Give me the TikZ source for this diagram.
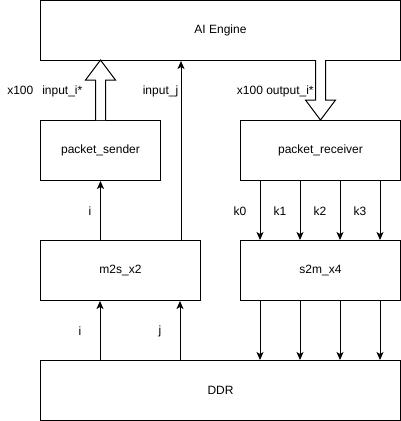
\documentclass[tikz,border=0pt]{standalone}
\usepackage{fontspec}
\setmainfont{Liberation Sans}
\usetikzlibrary{arrows.meta}
\begin{document}
\begin{tikzpicture}[x=1pt,y=-1pt,
  font=\fontsize{12}{14}\selectfont,
  box/.style={draw, line width=1pt, inner sep=0pt, fill=white},
  arr/.style={line width=1pt, -{Stealth[length=8pt,width=7pt,inset=2pt]}},
  hollow/.style={draw, line width=1pt, fill=white, line join=miter},
  lbl/.style={inner sep=0pt}]
\useasboundingbox (0,0) rectangle (401,421);
\node[box, minimum width=360pt, minimum height=60pt] (ai) at (220.5,30.5) {AI Engine};
\node[box, minimum width=120pt, minimum height=60pt] (sender) at (100.5,150.5) {packet\_sender};
\node[box, minimum width=160pt, minimum height=60pt] (recv) at (320.5,150.5) {packet\_receiver};
\node[box, minimum width=160pt, minimum height=60pt] (m2s) at (120.5,270.5) {m2s\_x2};
\node[box, minimum width=160pt, minimum height=60pt] (s2m) at (320.5,270.5) {s2m\_x4};
\node[box, minimum width=360pt, minimum height=60pt] (ddr) at (220.5,390.5) {DDR};
% hollow arrows
\draw[hollow] (sender.north) ++(-5,0) -- ++(0,-40) -- ++(-10,0) -- ++(15,-20) -- ++(15,20) -- ++(-10,0) -- ++(0,40);
\draw[hollow] (recv.north) ++(-5,-60) -- ++(0,40) -- ++(-10,0) -- ++(15,20) -- ++(15,-20) -- ++(-10,0) -- ++(0,-40);
% thin arrows
\draw[arr] (m2s.north -| sender.south) -- (sender.south);
\draw[arr] ([xshift=-20pt]m2s.north east) -- ([xshift=-20pt]m2s.north east |- ai.south);
\foreach \k/\o in {0/20,1/60,2/100,3/140}{
  \draw[arr] ([xshift=\o pt]recv.south west) -- ([xshift=\o pt]s2m.north west);
  \draw[arr] ([xshift=\o pt]s2m.south west) -- ([xshift=\o pt]s2m.south west |- ddr.north);
}
\draw[arr] ([xshift=60pt]m2s.south west |- ddr.north) -- ([xshift=60pt]m2s.south west);
\draw[arr] ([xshift=140pt]m2s.south west |- ddr.north) -- ([xshift=140pt]m2s.south west);
% labels
\node[lbl] (l1) at (44.8,91.5) {x100\hspace{9pt}input\_i*};
\node[lbl] (l2) at (160.5,91.5) {input\_j};
\node[lbl] (l3) at (275.3,91.5) {x100 output\_i*};
\node[lbl] (l4) at (90,211) {i};
\node[lbl] (k0) at (240,211) {k0};
\node[lbl] (k1) at (280,211) {k1};
\node[lbl] (k2) at (320,211) {k2};
\node[lbl] (k3) at (360,211) {k3};
\node[lbl] (l5) at (80,331) {i};
\node[lbl] (l6) at (160,331) {j};
\end{tikzpicture}
\end{document}
